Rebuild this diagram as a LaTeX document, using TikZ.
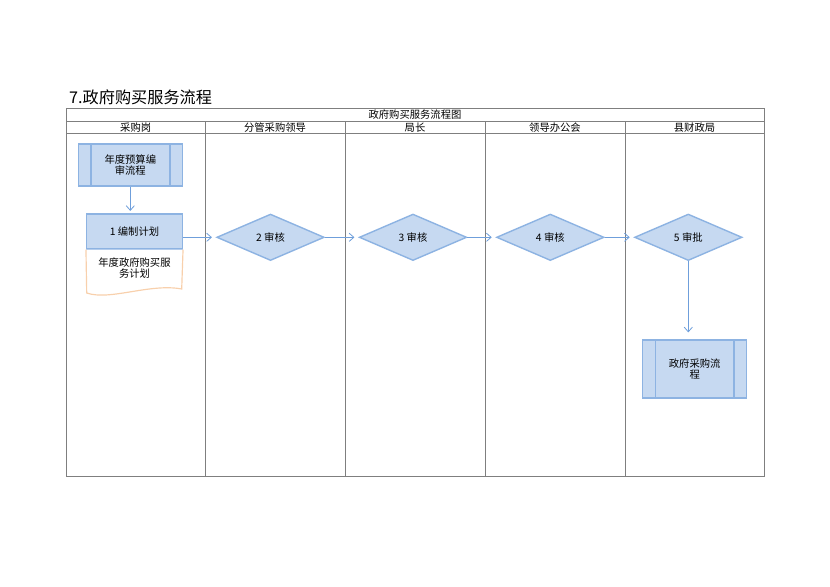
\documentclass[tikz,border=0pt]{standalone}
\usepackage{fontspec}
\setmainfont{Noto Sans CJK SC}
\usetikzlibrary{arrows.meta}
\usetikzlibrary{shapes.geometric}
\definecolor{boxfill}{HTML}{C6D9F1}
\definecolor{boxline}{HTML}{8DB3E2}
\definecolor{flowline}{HTML}{6F9FDB}
\definecolor{docline}{HTML}{F8D0AC}
\definecolor{laneline}{HTML}{7F7F7F}

\begin{document}
\begin{tikzpicture}[x=0.03cm, y=-0.03cm, font=\fontsize{8.8}{10}\selectfont]
    \tikzset{
        lane/.style={draw=laneline, line width=0.7pt},
        procbox/.style={draw=boxline, fill=boxfill, line width=1.2pt, inner sep=0pt, align=center},
        decision/.style={diamond, draw=boxline, fill=boxfill, line width=1.2pt, inner sep=0pt, aspect=2.3,
            minimum width=3.225cm, minimum height=1.395cm},
        flow/.style={draw=flowline, line width=0.7pt, -{Straight Barb[length=4pt, width=7pt]}}
    }
    \useasboundingbox (0,0) rectangle (830,587);

    % title
    \node [anchor=west, inner sep=0pt, font=\fontsize{13.8}{16}\selectfont] (title) at (69,97.5) {7.政府购买服务流程};

    % swimlane table
    \draw [lane] (66,108.5) rectangle (764,476);
    \draw [lane] (66,121.5) -- (764,121.5);
    \draw [lane] (66,133) -- (764,133);
    \foreach \x in {205.5,345,485,625}
        \draw [lane] (\x,121.5) -- (\x,476);
    \node (head) at (415,115) {政府购买服务流程图};
    \foreach \x/\lab [count=\i] in {135.7/采购岗, 275/分管采购领导, 415/局长, 555/领导办公会, 694.5/县财政局}
        \node (lane\i) at (\x,127.3) {\lab};

    % boxes
    \node [procbox, minimum width=3.12cm, minimum height=1.26cm] (budget) at (130.3,165) {年度预算编\\审流程};
    \draw [boxline, line width=1.2pt] ([xshift=0.4cm]budget.north west) -- ([xshift=0.4cm]budget.south west);
    \draw [boxline, line width=1.2pt] ([xshift=-0.39cm]budget.north east) -- ([xshift=-0.39cm]budget.south east);

    \node [procbox, minimum width=2.87cm, minimum height=1.05cm] (plan) at (134.5,231.5) {1 编制计划};
    \draw [docline, line width=1pt, fill=white] (plan.south west) -- (86.7,293)
        .. controls (110,301) and (150,283) .. (181.7,289) -- (plan.south east);
    \node [align=center] (plandoc) at (134.5,268) {年度政府购买服\\务计划};

    \node [decision] (check2) at (270.5,237.3) {2 审核};
    \node [decision] (check3) at (413,237.3) {3 审核};
    \node [decision] (check4) at (550.3,237.3) {4 审核};
    \node [decision] (approve5) at (688.3,237.3) {5 审批};

    \node [procbox, minimum width=3.12cm, minimum height=1.73cm] (purchase) at (694.7,369) {政府采购流\\程};
    \draw [boxline, line width=1.2pt] ([xshift=0.4cm]purchase.north west) -- ([xshift=0.4cm]purchase.south west);
    \draw [boxline, line width=1.2pt] ([xshift=-0.4cm]purchase.north east) -- ([xshift=-0.4cm]purchase.south east);

    % connectors
    \draw [flow, shorten >=2pt] (budget.south) -- (budget.south |- plan.north);
    \draw [flow, shorten >=3.5pt] (plan.east |- check2.west) -- (check2.west);
    \draw [flow, shorten >=3.5pt] (check2.east) -- (check3.west);
    \draw [flow, shorten >=3.5pt] (check3.east) -- (check4.west);
    \draw [flow, shorten >=3.5pt] (check4.east) -- (approve5.west);
    \draw [flow, shorten >=6pt] (approve5.south) -- (approve5.south |- purchase.north);
\end{tikzpicture}
\end{document}
